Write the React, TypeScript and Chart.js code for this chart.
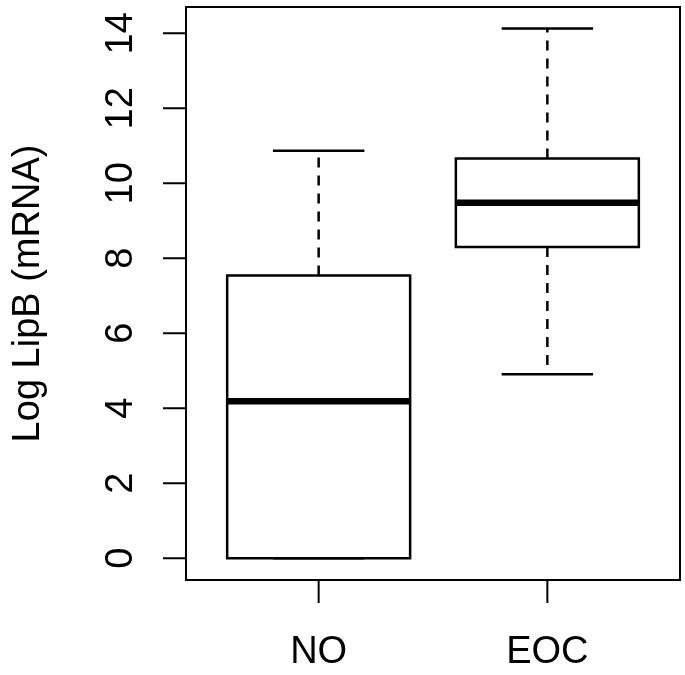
import React, { useEffect, useRef } from "react";
import { Chart, registerables } from "chart.js";

Chart.register(...registerables);

const categories = ["NO", "EOC"];
const whiskerLow = [0, 4.91];
const q1 = [0, 8.3];
const medians = [4.19, 9.48];
const q3 = [7.54, 10.66];
const whiskerHigh = [10.87, 14.13];
const yTicks = [0, 2, 4, 6, 8, 10, 12, 14];
const yTitle = "Log LipB (mRNA)";

const FONT = '38px "Liberation Sans", Arial, Helvetica, sans-serif';

const rboxPlugin = {
  id: "rbox",
  afterDatasetsDraw(chart: any) {
    const { ctx, chartArea: a, scales } = chart;
    const x = scales.x;
    const y = scales.y;
    const meta = chart.getDatasetMeta(0);
    ctx.save();
    ctx.strokeStyle = "#000";
    ctx.fillStyle = "#000";
    ctx.lineCap = "butt";

    categories.forEach((_, i) => {
      const c = i + 1;
      const xc = x.getPixelForValue(c);
      const el = meta.data[i];
      const half = el ? el.width / 2 : x.getPixelForValue(c + 0.4) - xc;
      const xl = xc - half;
      const xr = xc + half;
      const cl = x.getPixelForValue(c - 0.2);
      const cr = x.getPixelForValue(c + 0.2);

      // box outline centred on the quartile values
      ctx.setLineDash([]);
      ctx.lineWidth = 2.5;
      const yq1 = y.getPixelForValue(q1[i]);
      const yq3 = y.getPixelForValue(q3[i]);
      ctx.strokeRect(xl, yq3, xr - xl, yq1 - yq3);

      // whiskers (dashed)
      ctx.lineWidth = 2.5;
      ctx.setLineDash([10, 8]);
      ctx.beginPath();
      ctx.moveTo(xc, yq3);
      ctx.lineTo(xc, y.getPixelForValue(whiskerHigh[i]));
      if (whiskerLow[i] < q1[i]) {
        ctx.moveTo(xc, yq1);
        ctx.lineTo(xc, y.getPixelForValue(whiskerLow[i]));
      }
      ctx.stroke();

      // caps
      ctx.setLineDash([]);
      ctx.lineWidth = 2.5;
      ctx.beginPath();
      const yh = y.getPixelForValue(whiskerHigh[i]);
      const ylw = y.getPixelForValue(whiskerLow[i]);
      ctx.moveTo(cl, yh);
      ctx.lineTo(cr, yh);
      ctx.moveTo(cl, ylw);
      ctx.lineTo(cr, ylw);
      ctx.stroke();

      // median
      ctx.lineWidth = 6.5;
      ctx.beginPath();
      const ym = y.getPixelForValue(medians[i]);
      ctx.moveTo(xl, ym);
      ctx.lineTo(xr, ym);
      ctx.stroke();
    });

    // frame
    ctx.setLineDash([]);
    ctx.lineWidth = 2;
    ctx.strokeRect(a.left, a.top, a.right - a.left, a.bottom - a.top);

    // y ticks
    ctx.lineWidth = 2;
    ctx.beginPath();
    yTicks.forEach((v) => {
      const py = y.getPixelForValue(v);
      ctx.moveTo(a.left, py);
      ctx.lineTo(a.left - 23, py);
    });
    // x ticks
    categories.forEach((_, i) => {
      const px = x.getPixelForValue(i + 1);
      ctx.moveTo(px, a.bottom);
      ctx.lineTo(px, a.bottom + 23);
    });
    ctx.stroke();

    ctx.font = FONT;
    // y tick labels (rotated)
    yTicks.forEach((v) => {
      const py = y.getPixelForValue(v);
      ctx.save();
      ctx.translate(a.left - 54, py);
      ctx.rotate(-Math.PI / 2);
      ctx.textAlign = "center";
      ctx.textBaseline = "alphabetic";
      ctx.fillText(String(v), 0, 0);
      ctx.restore();
    });

    // x labels
    ctx.textAlign = "center";
    ctx.textBaseline = "alphabetic";
    categories.forEach((cat, i) => {
      const px = x.getPixelForValue(i + 1);
      ctx.fillText(cat, px, a.bottom + 83);
    });

    // y title
    ctx.save();
    ctx.translate(39, (a.top + a.bottom) / 2);
    ctx.rotate(-Math.PI / 2);
    ctx.textAlign = "center";
    ctx.textBaseline = "alphabetic";
    ctx.fillText(yTitle, 0, 0);
    ctx.restore();

    ctx.restore();
  },
};

export default function App() {
  const ref = useRef<HTMLCanvasElement | null>(null);
  useEffect(() => {
    document.body.style.margin = "0";
    const canvas = ref.current;
    if (!canvas) return;
    const chart = new Chart(canvas, {
      type: "bar",
      data: {
        datasets: [
          {
            data: categories.map((_, i) => ({ x: i + 1, y: [q1[i], q3[i]] })) as any,
            backgroundColor: "#ffffff",
            borderColor: "#000000",
            borderWidth: 0,
            borderSkipped: false,
            barPercentage: 1,
            categoryPercentage: 0.8,
          } as any,
        ],
      },
      options: {
        animation: false,
        responsive: false,
        maintainAspectRatio: false,
        layout: { padding: { left: 186, top: 7, right: 5, bottom: 95 } },
        plugins: {
          legend: { display: false },
          tooltip: { enabled: false },
        },
        scales: {
          x: {
            type: "linear",
            min: 0.42,
            max: 2.58,
            offset: false,
            grid: { offset: false },
            display: false,
            afterBuildTicks: (s: any) => {
              s.ticks = categories.map((_, i) => ({ value: i + 1 }));
            },
          },
          y: {
            type: "linear",
            min: -0.58,
            max: 14.7,
            display: false,
          },
        },
      } as any,
      plugins: [rboxPlugin],
    });
    return () => chart.destroy();
  }, []);

  return (
    <div style={{ position: "absolute", left: 0, top: 0, width: 685, height: 675, background: "#fff" }}>
      <canvas ref={ref} width={685} height={675} style={{ width: 685, height: 675, display: "block" }} />
    </div>
  );
}
